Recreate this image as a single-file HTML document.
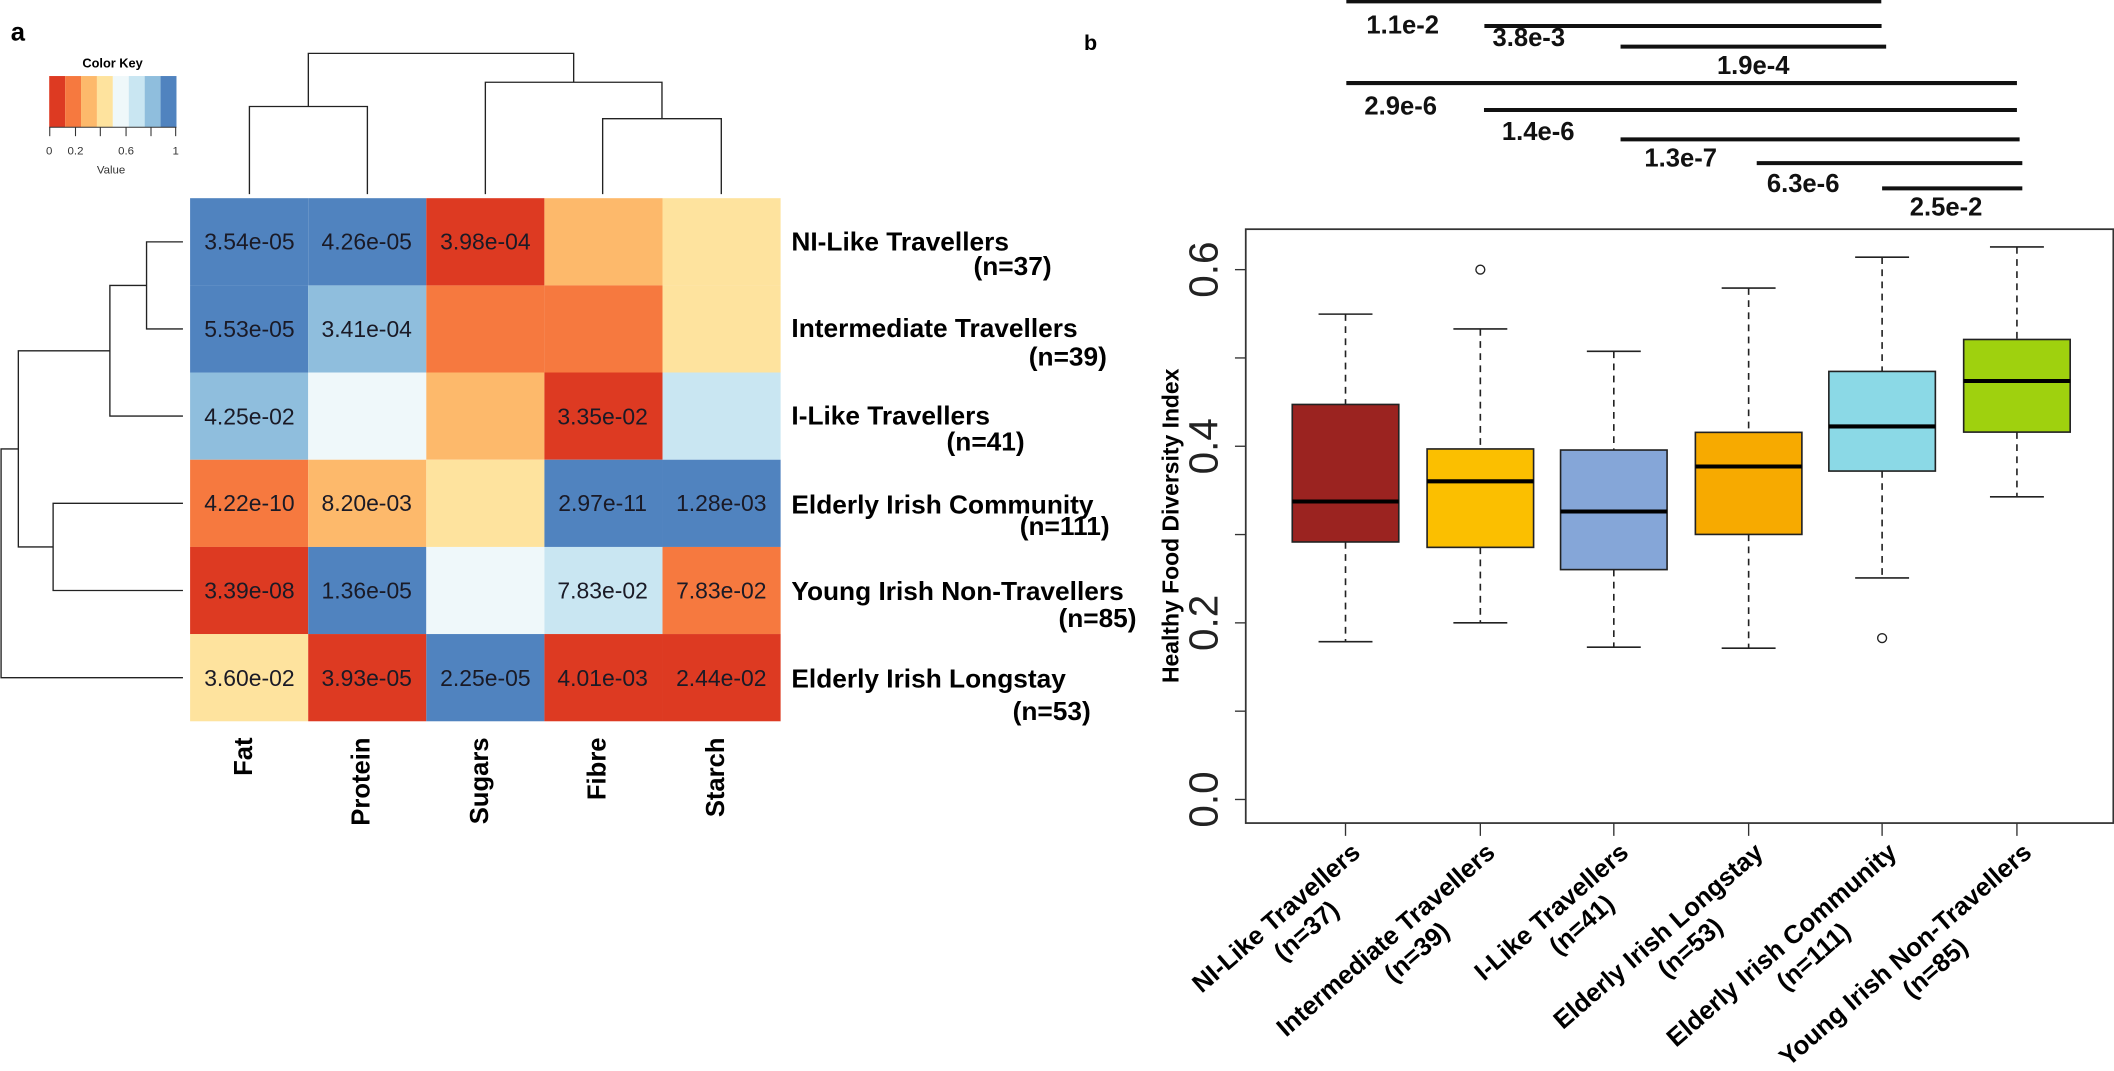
<!DOCTYPE html>
<html><head><meta charset="utf-8"><style>
html,body{margin:0;padding:0;background:#fff;}
svg{display:block;}
text{font-family:"Liberation Sans",Arial,sans-serif;}
</style></head><body>
<svg width="2114" height="1071" viewBox="0 0 1568 794.4" preserveAspectRatio="none" xmlns="http://www.w3.org/2000/svg">
<rect x="0" y="0" width="1568" height="795" fill="#fff"/>
<text x="8" y="30" font-size="19" font-weight="bold">a</text>
<text x="83.5" y="50" font-size="9.5" font-weight="bold" text-anchor="middle">Color Key</text>
<g>
<rect x="36.5" y="56.4" width="11.8" height="38" fill="#dd3a22"/>
<rect x="48.3" y="56.4" width="11.8" height="38" fill="#f6793f"/>
<rect x="60.1" y="56.4" width="11.8" height="38" fill="#fdb96b"/>
<rect x="71.9" y="56.4" width="11.8" height="38" fill="#fee39e"/>
<rect x="83.7" y="56.4" width="11.8" height="38" fill="#eff8fa"/>
<rect x="95.5" y="56.4" width="11.8" height="38" fill="#c9e6f2"/>
<rect x="107.3" y="56.4" width="11.8" height="38" fill="#8fbedd"/>
<rect x="119.1" y="56.4" width="11.8" height="38" fill="#5083bf"/>
</g>
<g stroke="#333" stroke-width="0.8">
<line x1="36.5" y1="94.4" x2="130.9" y2="94.4"/>
<line x1="36.9" y1="94.4" x2="36.9" y2="101"/><line x1="56" y1="94.4" x2="56" y2="101"/>
<line x1="74.4" y1="94.4" x2="74.4" y2="101"/><line x1="93.5" y1="94.4" x2="93.5" y2="101"/>
<line x1="112" y1="94.4" x2="112" y2="101"/><line x1="130.3" y1="94.4" x2="130.3" y2="101"/>
</g>
<g font-size="8.5" fill="#333" text-anchor="middle">
<text x="36.5" y="114.5">0</text><text x="56" y="114.5">0.2</text><text x="93.5" y="114.5">0.6</text><text x="130.3" y="114.5">1</text>
<text x="82.4" y="128.6">Value</text>
</g>
<g>
<rect x="141" y="147" width="87.6" height="64.7" fill="#5083bf"/>
<rect x="228.6" y="147" width="87.6" height="64.7" fill="#5083bf"/>
<rect x="316.2" y="147" width="87.6" height="64.7" fill="#dd3a22"/>
<rect x="403.8" y="147" width="87.6" height="64.7" fill="#fdb96b"/>
<rect x="491.4" y="147" width="87.6" height="64.7" fill="#fee39e"/>
<rect x="141" y="211.7" width="87.6" height="64.7" fill="#5083bf"/>
<rect x="228.6" y="211.7" width="87.6" height="64.7" fill="#8fbedd"/>
<rect x="316.2" y="211.7" width="87.6" height="64.7" fill="#f6793f"/>
<rect x="403.8" y="211.7" width="87.6" height="64.7" fill="#f6793f"/>
<rect x="491.4" y="211.7" width="87.6" height="64.7" fill="#fee39e"/>
<rect x="141" y="276.3" width="87.6" height="64.7" fill="#8fbedd"/>
<rect x="228.6" y="276.3" width="87.6" height="64.7" fill="#eff8fa"/>
<rect x="316.2" y="276.3" width="87.6" height="64.7" fill="#fdb96b"/>
<rect x="403.8" y="276.3" width="87.6" height="64.7" fill="#dd3a22"/>
<rect x="491.4" y="276.3" width="87.6" height="64.7" fill="#c9e6f2"/>
<rect x="141" y="341" width="87.6" height="64.7" fill="#f6793f"/>
<rect x="228.6" y="341" width="87.6" height="64.7" fill="#fdb96b"/>
<rect x="316.2" y="341" width="87.6" height="64.7" fill="#fee39e"/>
<rect x="403.8" y="341" width="87.6" height="64.7" fill="#5083bf"/>
<rect x="491.4" y="341" width="87.6" height="64.7" fill="#5083bf"/>
<rect x="141" y="405.7" width="87.6" height="64.7" fill="#dd3a22"/>
<rect x="228.6" y="405.7" width="87.6" height="64.7" fill="#5083bf"/>
<rect x="316.2" y="405.7" width="87.6" height="64.7" fill="#eff8fa"/>
<rect x="403.8" y="405.7" width="87.6" height="64.7" fill="#c9e6f2"/>
<rect x="491.4" y="405.7" width="87.6" height="64.7" fill="#f6793f"/>
<rect x="141" y="470.3" width="87.6" height="64.7" fill="#fee39e"/>
<rect x="228.6" y="470.3" width="87.6" height="64.7" fill="#dd3a22"/>
<rect x="316.2" y="470.3" width="87.6" height="64.7" fill="#5083bf"/>
<rect x="403.8" y="470.3" width="87.6" height="64.7" fill="#dd3a22"/>
<rect x="491.4" y="470.3" width="87.6" height="64.7" fill="#dd3a22"/>
</g>
<g font-size="17" fill="#1a1a26" text-anchor="middle">
<text x="185" y="185">3.54e-05</text><text x="272" y="185">4.26e-05</text><text x="360" y="185">3.98e-04</text>
<text x="185" y="250">5.53e-05</text><text x="272" y="250">3.41e-04</text>
<text x="185" y="315">4.25e-02</text><text x="447" y="315">3.35e-02</text>
<text x="185" y="379">4.22e-10</text><text x="272" y="379">8.20e-03</text><text x="447" y="379">2.97e-11</text><text x="535" y="379">1.28e-03</text>
<text x="185" y="444">3.39e-08</text><text x="272" y="444">1.36e-05</text><text x="447" y="444">7.83e-02</text><text x="535" y="444">7.83e-02</text>
<text x="185" y="509">3.60e-02</text><text x="272" y="509">3.93e-05</text><text x="360" y="509">2.25e-05</text><text x="447" y="509">4.01e-03</text><text x="535" y="509">2.44e-02</text>
</g>
<g stroke="#222" stroke-width="1" fill="none">
<path d="M185 144 V79 H272.5 V144"/>
<path d="M447 144 V88 H535 V144"/>
<path d="M360 144 V61 H491 V88"/>
<path d="M228.7 79 V39.6 H425.5 V61"/>
</g>
<g stroke="#222" stroke-width="1" fill="none">
<path d="M135.7 179.4 H108.7 V244 H135.7"/>
<path d="M108.7 211.7 H81.5 V308.6 H135.7"/>
<path d="M135.7 373.3 H39.4 V438 H135.7"/>
<path d="M81.5 260.2 H13.6 V405.7 H39.4"/>
<path d="M13.6 333 H0.8 V502.7 H135.7"/>
</g>
<g font-size="19" font-weight="bold" text-anchor="end">
<text transform="translate(187,547) rotate(-90)">Fat</text>
<text transform="translate(274,547) rotate(-90)">Protein</text>
<text transform="translate(362,547) rotate(-90)">Sugars</text>
<text transform="translate(449,547) rotate(-90)">Fibre</text>
<text transform="translate(537,547) rotate(-90)">Starch</text>
</g>
<g font-size="19.5" font-weight="bold">
<text x="587" y="186">NI-Like Travellers</text>
<text x="780" y="204" text-anchor="end">(n=37)</text>
<text x="587" y="250">Intermediate Travellers</text>
<text x="821" y="271" text-anchor="end">(n=39)</text>
<text x="587" y="315">I-Like Travellers</text>
<text x="760" y="334" text-anchor="end">(n=41)</text>
<text x="587" y="381">Elderly Irish Community</text>
<text x="823" y="397" text-anchor="end">(n=111)</text>
<text x="587" y="445">Young Irish Non-Travellers</text>
<text x="843" y="465" text-anchor="end">(n=85)</text>
<text x="587" y="510">Elderly Irish Longstay</text>
<text x="809" y="534" text-anchor="end">(n=53)</text>
</g>
<text x="804" y="37" font-size="16" font-weight="bold">b</text>
<g stroke="#111" stroke-width="3">
<line x1="998.6" y1="1" x2="1395.4" y2="1"/>
<line x1="1101" y1="19.3" x2="1395.6" y2="19.3"/>
<line x1="1202" y1="34.6" x2="1399" y2="34.6"/>
<line x1="998.6" y1="61.6" x2="1496" y2="61.6"/>
<line x1="1100.7" y1="81.6" x2="1496" y2="81.6"/>
<line x1="1202" y1="103.4" x2="1498" y2="103.4"/>
<line x1="1303" y1="121" x2="1500" y2="121"/>
<line x1="1396" y1="139.7" x2="1500" y2="139.7"/>
</g>
<g font-size="19" font-weight="bold" fill="#111">
<text x="1013.5" y="24.7">1.1e-2</text>
<text x="1107" y="34">3.8e-3</text>
<text x="1273.5" y="55">1.9e-4</text>
<text x="1012" y="85">2.9e-6</text>
<text x="1114" y="104">1.4e-6</text>
<text x="1219.7" y="123.6">1.3e-7</text>
<text x="1310.5" y="142.6">6.3e-6</text>
<text x="1416.5" y="160">2.5e-2</text>
</g>
<rect x="924" y="170" width="643.5" height="440.5" fill="none" stroke="#333" stroke-width="1.3"/>
<g stroke="#333" stroke-width="1">
<line x1="916" y1="593" x2="924" y2="593"/><line x1="916" y1="527.5" x2="924" y2="527.5"/>
<line x1="916" y1="462" x2="924" y2="462"/><line x1="916" y1="396.5" x2="924" y2="396.5"/>
<line x1="916" y1="331" x2="924" y2="331"/><line x1="916" y1="265.5" x2="924" y2="265.5"/>
<line x1="916" y1="200" x2="924" y2="200"/>
</g>
<g font-size="30" text-anchor="middle" fill="#222">
<text transform="translate(903,593) rotate(-90)">0.0</text>
<text transform="translate(903,462) rotate(-90)">0.2</text>
<text transform="translate(903,331) rotate(-90)">0.4</text>
<text transform="translate(903,200) rotate(-90)">0.6</text>
</g>
<text transform="translate(874,390) rotate(-90)" font-size="17" font-weight="bold" text-anchor="middle">Healthy Food Diversity Index</text>
<g stroke="#333" stroke-width="1">
<line x1="998" y1="610.5" x2="998" y2="620"/><line x1="1098" y1="610.5" x2="1098" y2="620"/>
<line x1="1197" y1="610.5" x2="1197" y2="620"/><line x1="1297" y1="610.5" x2="1297" y2="620"/>
<line x1="1396" y1="610.5" x2="1396" y2="620"/><line x1="1496" y1="610.5" x2="1496" y2="620"/>
</g>
<g stroke="#222" stroke-width="1.2">
<g stroke-dasharray="5,4">
<line x1="998" y1="233" x2="998" y2="300"/><line x1="998" y1="402" x2="998" y2="476"/>
<line x1="1098" y1="244" x2="1098" y2="333"/><line x1="1098" y1="406" x2="1098" y2="462"/>
<line x1="1197" y1="260.6" x2="1197" y2="333.8"/><line x1="1197" y1="422.5" x2="1197" y2="480"/>
<line x1="1297" y1="213.7" x2="1297" y2="320.7"/><line x1="1297" y1="396.4" x2="1297" y2="480.8"/>
<line x1="1396" y1="190.8" x2="1396" y2="275.5"/><line x1="1396" y1="349.4" x2="1396" y2="428.7"/>
<line x1="1496" y1="183.2" x2="1496" y2="251.8"/><line x1="1496" y1="320.5" x2="1496" y2="368.5"/>
</g>
<line x1="978" y1="233" x2="1018" y2="233"/><line x1="978" y1="476" x2="1018" y2="476"/>
<line x1="1078" y1="244" x2="1118" y2="244"/><line x1="1078" y1="462" x2="1118" y2="462"/>
<line x1="1177" y1="260.6" x2="1217" y2="260.6"/><line x1="1177" y1="480" x2="1217" y2="480"/>
<line x1="1277" y1="213.7" x2="1317" y2="213.7"/><line x1="1277" y1="480.8" x2="1317" y2="480.8"/>
<line x1="1376" y1="190.8" x2="1416" y2="190.8"/><line x1="1376" y1="428.7" x2="1416" y2="428.7"/>
<line x1="1476" y1="183.2" x2="1516" y2="183.2"/><line x1="1476" y1="368.5" x2="1516" y2="368.5"/>
<rect x="958.5" y="300" width="79" height="102" fill="#9b2320"/>
<rect x="1058.5" y="333" width="79" height="73" fill="#fbbf00"/>
<rect x="1157.5" y="333.8" width="79" height="88.7" fill="#85a6d8"/>
<rect x="1257.5" y="320.7" width="79" height="75.7" fill="#f7aa00"/>
<rect x="1356.5" y="275.5" width="79" height="73.9" fill="#8bd9e6"/>
<rect x="1456.5" y="251.8" width="79" height="68.7" fill="#9fd10e"/>
</g>
<g stroke="#000" stroke-width="3">
<line x1="958.5" y1="372" x2="1037.5" y2="372"/>
<line x1="1058.5" y1="357" x2="1137.5" y2="357"/>
<line x1="1157.5" y1="379.4" x2="1236.5" y2="379.4"/>
<line x1="1257.5" y1="346" x2="1336.5" y2="346"/>
<line x1="1356.5" y1="316.3" x2="1435.5" y2="316.3"/>
<line x1="1456.5" y1="282.6" x2="1535.5" y2="282.6"/>
</g>
<g fill="none" stroke="#222" stroke-width="1">
<circle cx="1098" cy="200" r="3.3"/>
<circle cx="1396" cy="473.3" r="3.3"/>
</g>
<g font-size="19" font-weight="bold">
<g transform="translate(1010,634) rotate(-41)"><text text-anchor="end">NI-Like Travellers</text><text x="-68" y="22" text-anchor="middle">(n=37)</text></g>
<g transform="translate(1110,634) rotate(-41)"><text text-anchor="end">Intermediate Travellers</text><text x="-92" y="22" text-anchor="middle">(n=39)</text></g>
<g transform="translate(1209,634) rotate(-41)"><text text-anchor="end">I-Like Travellers</text><text x="-61" y="22" text-anchor="middle">(n=41)</text></g>
<g transform="translate(1309,634) rotate(-41)"><text text-anchor="end">Elderly Irish Longstay</text><text x="-87" y="22" text-anchor="middle">(n=53)</text></g>
<g transform="translate(1408,634) rotate(-41)"><text text-anchor="end">Elderly Irish Community</text><text x="-97" y="22" text-anchor="middle">(n=111)</text></g>
<g transform="translate(1508,634) rotate(-41)"><text text-anchor="end">Young Irish Non-Travellers</text><text x="-110" y="22" text-anchor="middle">(n=85)</text></g>
</g>
</svg>
</body></html>
